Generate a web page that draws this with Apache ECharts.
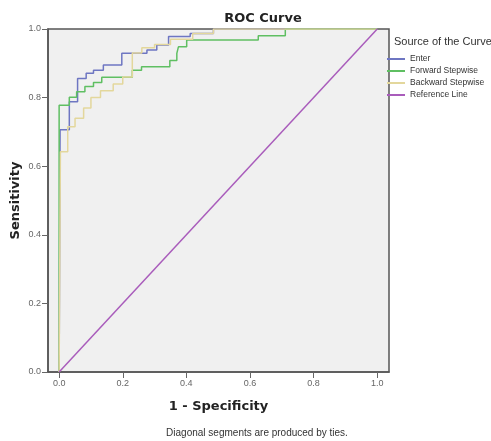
<!DOCTYPE html>
<html>
<head>
<meta charset="utf-8">
<script src="https://cdn.jsdelivr.net/npm/echarts@6/dist/echarts.min.js"></script>
<style>
html,body{margin:0;padding:0;background:#fff;}
#main{width:491px;height:441px;}
</style>
</head>
<body>
<div id="main"></div>
<script>
// ROC points (1 - specificity, sensitivity)
let enterFpr=[0,0.003,0.032,0.058,0.085,0.108,0.139,0.197,0.276,0.307,0.344,0.412,0.485,1];
let enterTpr=[0,0.706,0.788,0.856,0.871,0.880,0.895,0.929,0.939,0.953,0.978,0.987,1,1];
let forwardFpr=[0,0,0.032,0.055,0.081,0.108,0.134,0.230,0.259,0.348,0.370,0.375,0.401,0.626,0.711,1];
let forwardTpr=[0,0.778,0.801,0.817,0.832,0.844,0.859,0.880,0.890,0.908,0.929,0.948,0.968,0.980,1,1];
let backwardFpr=[0,0.004,0.027,0.05,0.077,0.10,0.13,0.17,0.20,0.23,0.26,0.30,0.35,0.42,0.485,1];
let backwardTpr=[0,0.642,0.715,0.74,0.77,0.80,0.82,0.84,0.86,0.93,0.945,0.955,0.97,0.987,1,1];
let refX=[0,1];
let refY=[0,1];
let xTicks=[0,0.2,0.4,0.6,0.8,1.0];
let seriesNames=["Enter","Forward Stepwise","Backward Stepwise","Reference Line"];
let colors=["#6e76c2","#5fbf62","#e3d79c","#a95cbb"];

function pairs(xs,ys){
	return xs.map(function(x,i){return [x,ys[i]];});
}
let chart=echarts.init(document.querySelector("#main"));
let lineSeries=function(name,data,color,step){
	return {
		name:name,
		type:"line",
		data:data,
		step:step,
		showSymbol:false,
		symbol:"none",
		animation:false,
		lineStyle:{color:color,width:1.5},
		itemStyle:{color:color}
	};
};
let option={
	title:[{
		text:"ROC Curve",
		left:258,
		top:7,
		textAlign:"center",
		textStyle:{fontFamily:"DejaVu Sans",fontWeight:"bold",fontSize:13,color:"#222"}
	},{
		text:"Source of the Curve",
		left:394,
		top:36,
		padding:0,
		textStyle:{fontFamily:"Liberation Sans",fontWeight:"normal",fontSize:11,color:"#333"}
	},{
		text:"Diagonal segments are produced by ties.",
		left:257,
		top:428,
		padding:0,
		textAlign:"center",
		textStyle:{fontFamily:"Liberation Sans",fontWeight:"normal",fontSize:10,color:"#333"}
	}],
	legend:{
		data:seriesNames,
		orient:"vertical",
		left:387,
		top:54,
		padding:0,
		itemWidth:18,
		itemHeight:2,
		itemGap:2,
		icon:"rect",
		textStyle:{fontFamily:"Liberation Sans",fontSize:8.5,color:"#333",lineHeight:10}
	},
	grid:{
		left:48,
		right:102,
		top:29,
		bottom:69,
		outerBoundsMode:"none",
		show:true,
		backgroundColor:"#f0f0f0",
		borderColor:"#555",
		borderWidth:1.5
	},
	xAxis:{
		type:"value",
		min:-0.035,
		max:1.037,
		name:"1 - Specificity",
		nameLocation:"middle",
		nameGap:28,
		nameMoveOverlap:false,
		nameTextStyle:{fontFamily:"DejaVu Sans",fontWeight:"bold",fontSize:13,color:"#222"},
		splitLine:{show:false},
		axisLine:{show:true,onZero:false,lineStyle:{color:"#555",width:1.5}},
		axisTick:{show:true,length:6,customValues:xTicks,lineStyle:{color:"#666"}},
		axisLabel:{
			customValues:xTicks,
			margin:7,
			fontFamily:"Liberation Sans",
			fontSize:9,
			color:"#666",
			formatter:function(v){return v.toFixed(1);}
		}
	},
	yAxis:{
		type:"value",
		min:0,
		max:1,
		interval:0.2,
		name:"Sensitivity",
		nameLocation:"middle",
		nameRotate:90,
		nameGap:26,
		nameMoveOverlap:false,
		nameTextStyle:{fontFamily:"DejaVu Sans",fontWeight:"bold",fontSize:13,color:"#222"},
		splitLine:{show:false},
		axisLine:{show:true,onZero:false,lineStyle:{color:"#555",width:1.5}},
		axisTick:{show:true,length:6,lineStyle:{color:"#666"}},
		axisLabel:{
			margin:7,
			fontFamily:"Liberation Sans",
			fontSize:9,
			color:"#666",
			formatter:function(v){return v.toFixed(1);}
		}
	},
	series:[
		lineSeries(seriesNames[0],pairs(enterFpr,enterTpr),colors[0],"end"),
		lineSeries(seriesNames[1],pairs(forwardFpr,forwardTpr),colors[1],"end"),
		lineSeries(seriesNames[2],pairs(backwardFpr,backwardTpr),colors[2],"end"),
		lineSeries(seriesNames[3],pairs(refX,refY),colors[3],false)
	]
};
chart.setOption(option);
</script>
</body>
</html>
